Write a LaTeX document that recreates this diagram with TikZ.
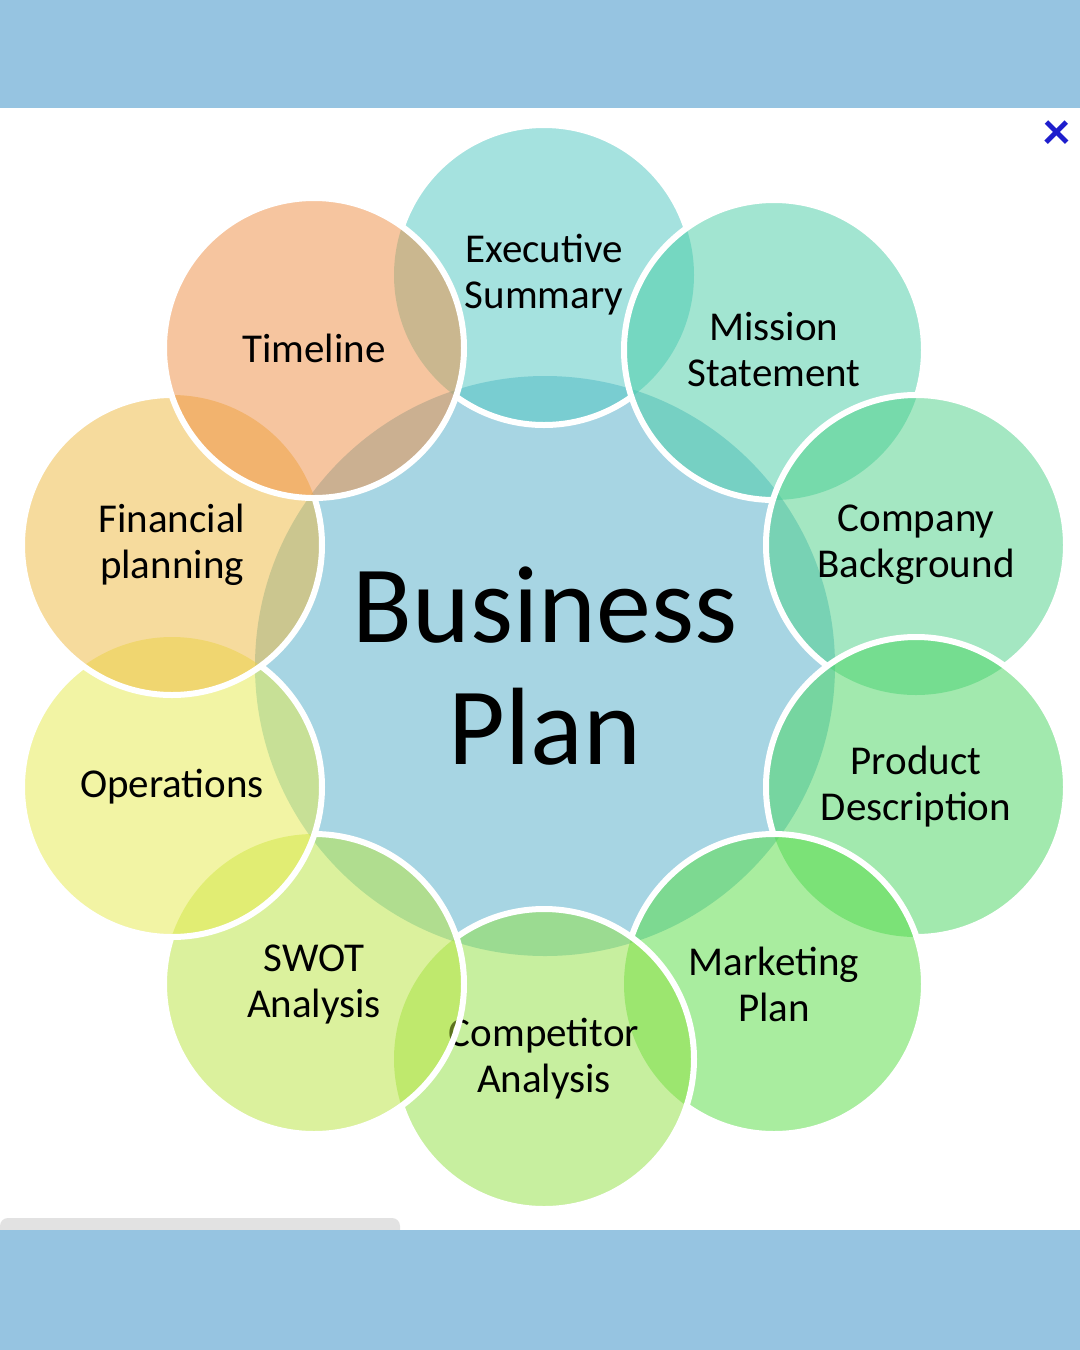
\documentclass[tikz,border=0pt]{standalone}
\usepackage{fontspec}
\setmainfont{Carlito}
\usepackage{xcolor}
\usepackage{tikz}
\definecolor{bandblue}{RGB}{150,196,225}
\definecolor{planblue}{RGB}{167,213,227}
\definecolor{bargray}{RGB}{226,226,226}
\definecolor{closeblue}{RGB}{30,30,205}
\definecolor{execfill}{RGB}{77,199,193}
\definecolor{missionfill}{RGB}{71,205,165}
\definecolor{companyfill}{RGB}{75,209,135}
\definecolor{productfill}{RGB}{71,213,95}
\definecolor{marketingfill}{RGB}{85,221,65}
\definecolor{competitorfill}{RGB}{145,225,65}
\definecolor{swotfill}{RGB}{185,229,61}
\definecolor{operationsfill}{RGB}{231,235,75}
\definecolor{financialfill}{RGB}{239,185,61}
\definecolor{timelinefill}{RGB}{239,141,65}
\tikzstyle{petal}= [circle, inner sep=0pt, minimum size=150pt, fill opacity=0.5, text opacity=1, align=center, font=\fontsize{20.5}{23}\selectfont]
\tikzstyle{rim}= [draw=white, line width=3pt]

\begin{document}
\begin{tikzpicture}[x=0.5pt, y=-0.5pt]
				\useasboundingbox (0,0) rectangle (1080,1350);
				\fill[white] (0,0) rectangle (1080,1350);
				\fill[bargray, rounded corners=4] (0,1218) rectangle (400,1240);
				\fill[bandblue] (0,0) rectangle (1080,108);
				\fill[bandblue] (0,1230) rectangle (1080,1350);
				\node[circle, inner sep=0pt, minimum size=290pt, fill=planblue, align=center, font=\fontsize{55}{61}\selectfont] (plan) at (545,666) {Business\\Plan};
				\node[petal, fill=execfill] (exec) at (544,275) {Executive\\Summary};
				\node[petal, fill=missionfill] (mission) at (774,350) {Mission\\Statement};
				\node[petal, fill=companyfill] (company) at (916,545) {Company\\Background};
				\node[petal, fill=productfill] (product) at (916,787) {Product\\Description};
				\node[petal, fill=marketingfill] (marketing) at (774,984) {Marketing\\Plan};
				\node[petal, fill=competitorfill] (competitor) at (544,1059) {Competitor\\Analysis};
				\node[petal, fill=swotfill] (swot) at (314,984) {SWOT\\Analysis};
				\node[petal, fill=operationsfill] (operations) at (172,787) {Operations};
				\node[petal, fill=financialfill] (financial) at (172,545) {Financial\\planning};
				\node[petal, fill=timelinefill] (timeline) at (314,348) {Timeline};
				% white rims, each one hidden under the circle laid over it
				\begin{scope}[even odd rule]
				\clip (0,1350) rectangle (1080,0) (mission.center) circle (150) (timeline.center) circle (150);
				\draw[rim] (exec.center) circle (150);
				\end{scope}
				\begin{scope}[even odd rule]
				\clip (0,1350) rectangle (1080,0) (company.center) circle (150);
				\draw[rim] (mission.center) circle (150);
				\end{scope}
				\begin{scope}[even odd rule]
				\clip (0,1350) rectangle (1080,0) (product.center) circle (150);
				\draw[rim] (company.center) circle (150);
				\end{scope}
				\begin{scope}[even odd rule]
				\clip (0,1350) rectangle (1080,0) (marketing.center) circle (150);
				\draw[rim] (product.center) circle (150);
				\end{scope}
				\begin{scope}[even odd rule]
				\clip (0,1350) rectangle (1080,0) (competitor.center) circle (150);
				\draw[rim] (marketing.center) circle (150);
				\end{scope}
				\begin{scope}[even odd rule]
				\clip (0,1350) rectangle (1080,0) (swot.center) circle (150);
				\draw[rim] (competitor.center) circle (150);
				\end{scope}
				\begin{scope}[even odd rule]
				\clip (0,1350) rectangle (1080,0) (operations.center) circle (150);
				\draw[rim] (swot.center) circle (150);
				\end{scope}
				\begin{scope}[even odd rule]
				\clip (0,1350) rectangle (1080,0) (financial.center) circle (150);
				\draw[rim] (operations.center) circle (150);
				\end{scope}
				\begin{scope}[even odd rule]
				\clip (0,1350) rectangle (1080,0) (timeline.center) circle (150);
				\draw[rim] (financial.center) circle (150);
				\end{scope}
				\draw[rim] (timeline.center) circle (150);
				\node[text=closeblue, font=\bfseries\fontsize{27}{27}\selectfont] (close) at (1057,135) {×};
			\end{tikzpicture}
\end{document}
